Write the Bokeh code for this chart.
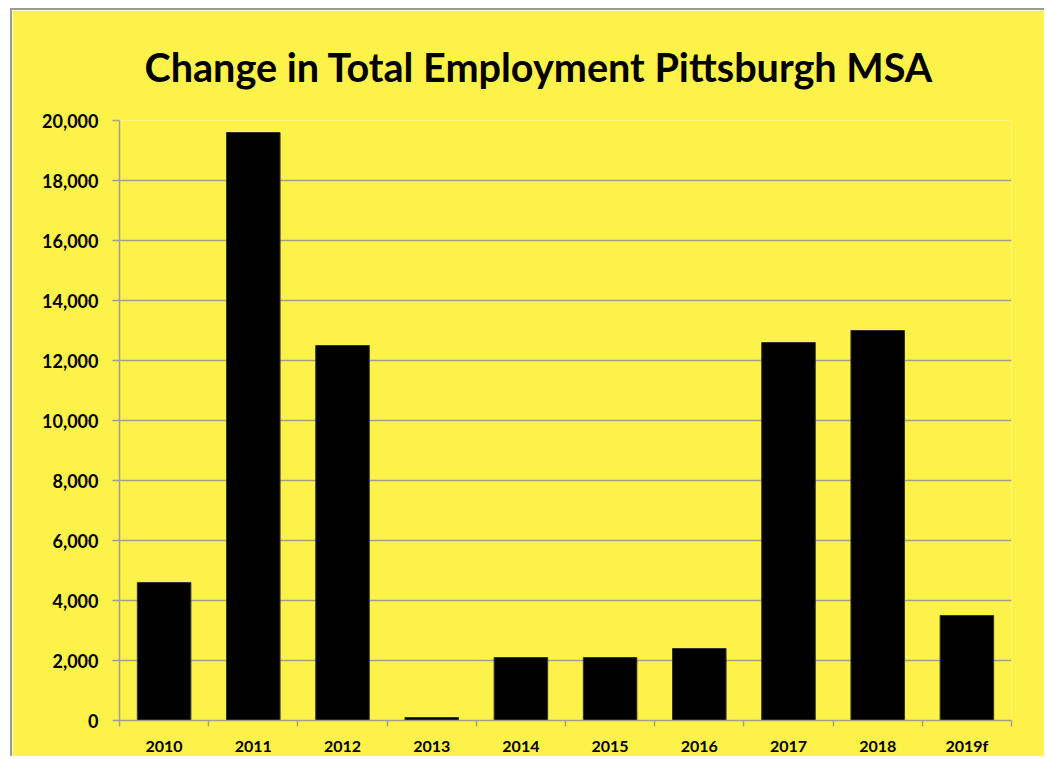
from bokeh.plotting import figure
from bokeh.models import FixedTicker, NumeralTickFormatter, ColumnDataSource, Range1d, Title
from bokeh.embed import file_html
from bokeh.resources import INLINE

categories = ["2010", "2011", "2012", "2013", "2014", "2015", "2016", "2017", "2018", "2019f"]
values = [4600, 19600, 12500, 100, 2100, 2100, 2400, 12600, 13000, 3500]
y_ticks = list(range(0, 20001, 2000))
title_text = "Change in Total Employment Pittsburgh MSA"

YELLOW = "#FCF24A"
GRID = "#a3a08a"
FONT = "Lato"

centers = [i + 0.5 for i in range(len(categories))]
src = ColumnDataSource(dict(x=centers, top=values, cat=categories))

p = figure(width=1034, height=748, output_backend="svg", toolbar_location=None,
           x_range=Range1d(0, len(categories)), y_range=Range1d(0, 20000),
           background_fill_color=YELLOW, border_fill_color=YELLOW,
           min_border_left=107, min_border_right=35, min_border_top=110, min_border_bottom=38)
p.outline_line_color = None
p.margin = (8, 0, 0, 10)
p.styles = {"border-left": "2px solid #999999", "border-top": "2px solid #999999"}

p.vbar(x="x", top="top", width=0.6, source=src, fill_color="black", line_color="#333333", line_width=1)

t = Title(text=title_text, align="left", offset=25,
          text_font=FONT, text_font_size="39.6px", text_font_style="bold", text_color="black",
          standoff=61)
p.add_layout(t, "above")

# x axis
p.xaxis.ticker = FixedTicker(ticks=centers, minor_ticks=list(range(len(categories) + 1)))
p.xaxis.major_label_overrides = {c: lab for c, lab in zip(centers, categories)}
p.xaxis.major_tick_line_color = None
p.xaxis.minor_tick_line_color = GRID
p.xaxis.minor_tick_line_width = 1.5
p.xaxis.minor_tick_out = 6
p.xaxis.minor_tick_in = 0
p.xaxis.axis_line_color = GRID
p.xaxis.axis_line_width = 1.5
p.xaxis.major_label_text_font = FONT
p.xaxis.major_label_text_font_style = "bold"
p.xaxis.major_label_text_font_size = "16px"
p.xaxis.major_label_text_color = "black"
p.xaxis.major_label_standoff = 9
p.xgrid.grid_line_color = None

# y axis
p.yaxis.ticker = FixedTicker(ticks=y_ticks)
p.yaxis.formatter = NumeralTickFormatter(format="0,0")
p.yaxis.major_tick_line_color = GRID
p.yaxis.major_tick_line_width = 1.5
p.yaxis.major_tick_out = 7
p.yaxis.major_tick_in = 0
p.yaxis.minor_tick_line_color = None
p.yaxis.axis_line_color = GRID
p.yaxis.axis_line_width = 1.5
p.yaxis.major_label_text_font = FONT
p.yaxis.major_label_text_font_style = "bold"
p.yaxis.major_label_text_font_size = "18px"
p.yaxis.major_label_text_color = "black"
p.yaxis.major_label_standoff = 14
p.ygrid.ticker = FixedTicker(ticks=y_ticks)
p.ygrid.grid_line_color = GRID
p.ygrid.grid_line_width = 1.5

open("out.html", "w").write(file_html(p, INLINE))
